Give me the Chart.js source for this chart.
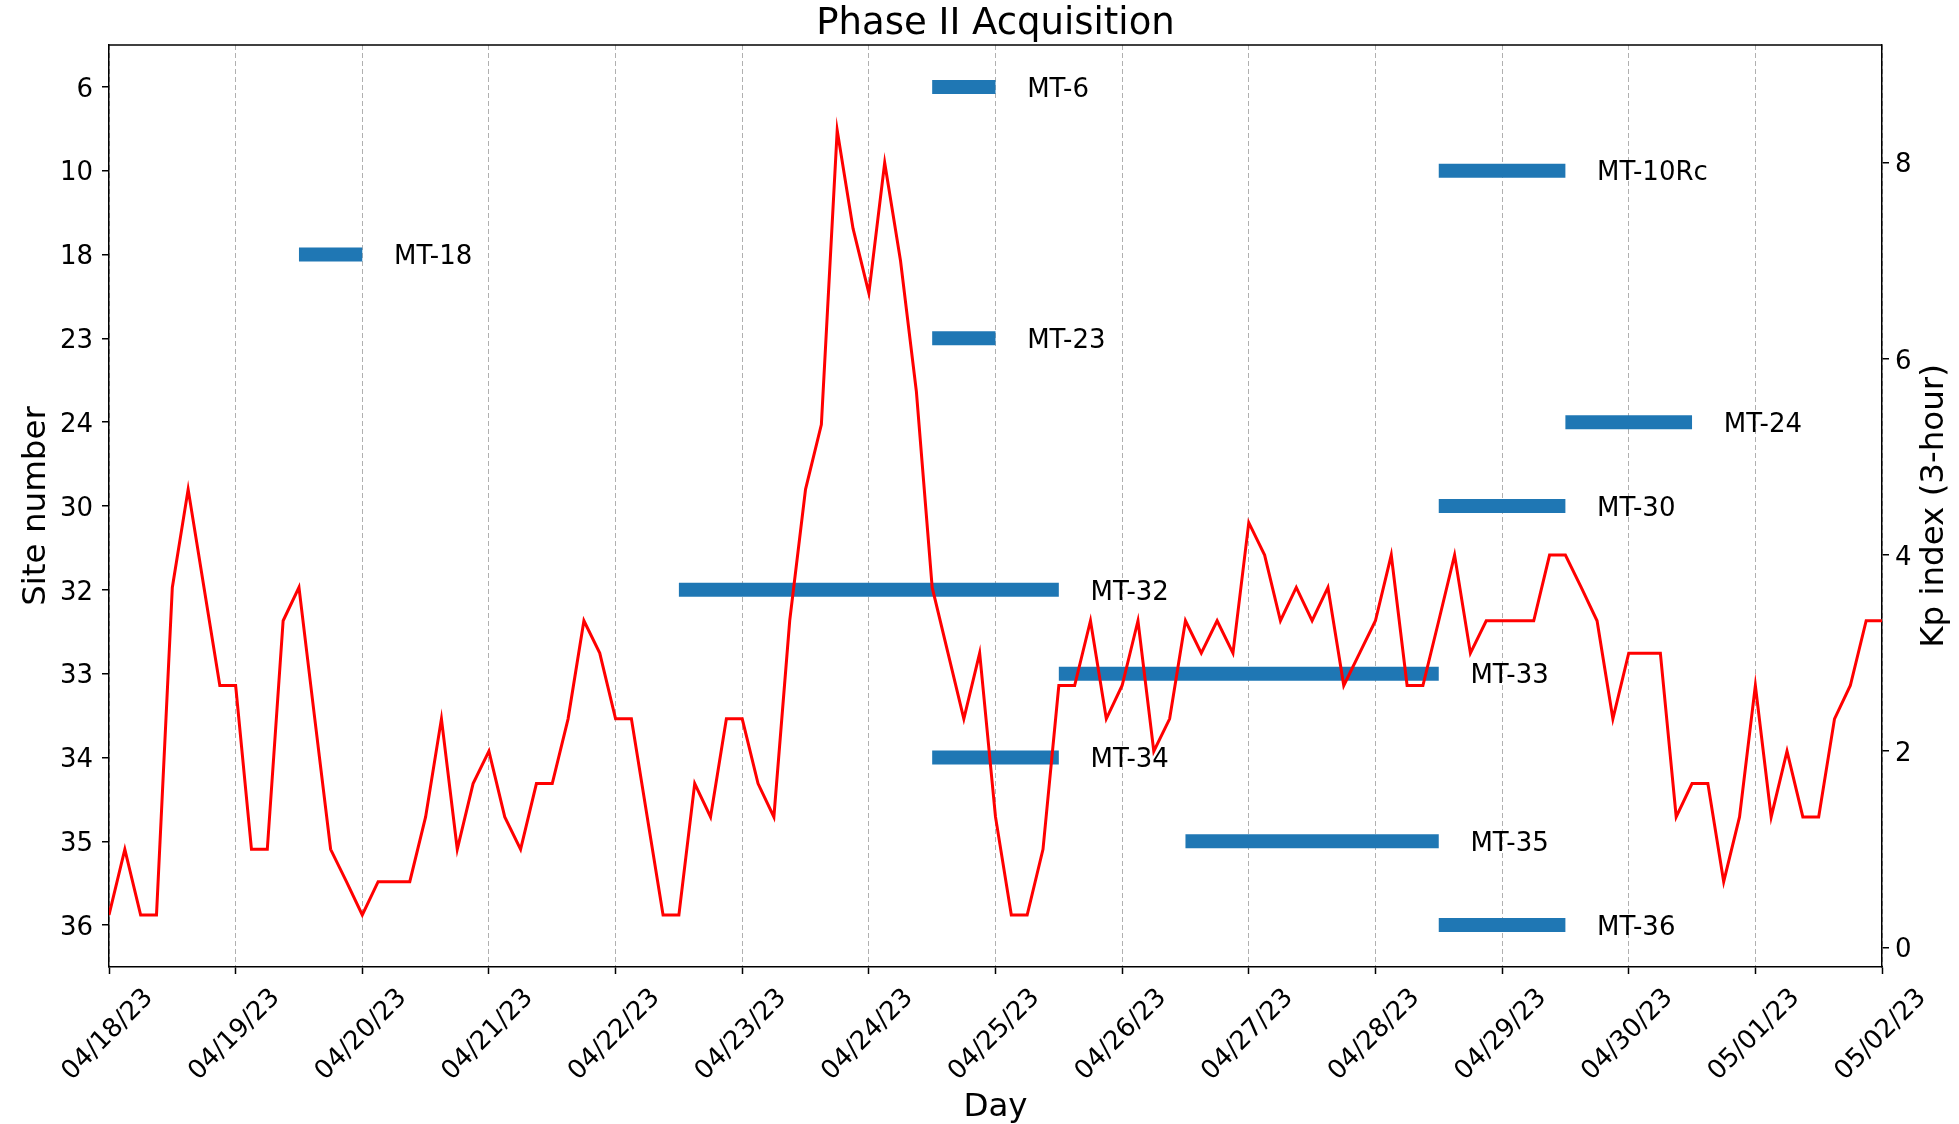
<!DOCTYPE html>
<html>
<head>
<meta charset="UTF-8">
<title>Phase II Acquisition</title>
<script src="https://cdn.jsdelivr.net/npm/chart.js@4.4.1/dist/chart.umd.min.js"></script>
<style>
    html, body { margin: 0; padding: 0; background: #fff; }
    canvas { display: block; }
</style>
</head>
<body>
<canvas id="myChart" width="1959" height="1124"></canvas>
<script>
    // x axis: days counted from 04/18/23 00:00
    const dayLabels = ['04/18/23', '04/19/23', '04/20/23', '04/21/23', '04/22/23', '04/23/23', '04/24/23',
        '04/25/23', '04/26/23', '04/27/23', '04/28/23', '04/29/23', '04/30/23', '05/01/23', '05/02/23'];

    // left axis: site numbers, top to bottom
    const siteTicks = ['6', '10', '18', '23', '24', '30', '32', '33', '34', '35', '36'];

    // acquisition runs (start / end in days from 04/18/23)
    const runNames = ['MT-6', 'MT-10Rc', 'MT-18', 'MT-23', 'MT-24', 'MT-30', 'MT-32', 'MT-33', 'MT-34', 'MT-35', 'MT-36'];
    const runSites = ['6', '10', '18', '23', '24', '30', '32', '33', '34', '35', '36'];
    const runStart = [6.5, 10.5, 1.5, 6.5, 11.5, 10.5, 4.5, 7.5, 6.5, 8.5, 10.5];
    const runEnd = [7.0, 11.5, 2.0, 7.0, 12.5, 11.5, 7.5, 10.5, 7.5, 10.5, 11.5];

    // Kp index, one value every 3 hours, 04/18 00:00 .. 05/02 00:00
    const kpValues = [
        0.33, 1.00, 0.33, 0.33, 3.67, 4.67, 3.67, 2.67,
        2.67, 1.00, 1.00, 3.33, 3.67, 2.33, 1.00, 0.67,
        0.33, 0.67, 0.67, 0.67, 1.33, 2.33, 1.00, 1.67,
        2.00, 1.33, 1.00, 1.67, 1.67, 2.33, 3.33, 3.00,
        2.33, 2.33, 1.33, 0.33, 0.33, 1.67, 1.33, 2.33,
        2.33, 1.67, 1.33, 3.33, 4.67, 5.33, 8.33, 7.33,
        6.67, 8.00, 7.00, 5.67, 3.67, 3.00, 2.33, 3.00,
        1.33, 0.33, 0.33, 1.00, 2.67, 2.67, 3.33, 2.33,
        2.67, 3.33, 2.00, 2.33, 3.33, 3.00, 3.33, 3.00,
        4.33, 4.00, 3.33, 3.67, 3.33, 3.67, 2.67, 3.00,
        3.33, 4.00, 2.67, 2.67, 3.33, 4.00, 3.00, 3.33,
        3.33, 3.33, 3.33, 4.00, 4.00, 3.67, 3.33, 2.33,
        3.00, 3.00, 3.00, 1.33, 1.67, 1.67, 0.67, 1.33,
        2.67, 1.33, 2.00, 1.33, 1.33, 2.33, 2.67, 3.33,
        3.33
    ];
    const kpTicks = [0, 2, 4, 6, 8];

    const FONT = '"DejaVu Sans", sans-serif';
    const TICK_SIZE = 26;
    const LABEL_SIZE = 32.5;

    const datasets = [{
        label: 'Kp',
        yAxisID: 'y2',
        data: kpValues.map((v, i) => ({x: i / 8, y: v})),
        borderColor: '#ff0000',
        borderWidth: 3,
        pointRadius: 0,
        tension: 0
    }];
    runNames.forEach((name, i) => {
        const row = siteTicks.indexOf(runSites[i]);
        datasets.push({
            label: name,
            yAxisID: 'y',
            data: [{x: runStart[i], y: row}, {x: runEnd[i], y: row}],
            borderColor: '#1f77b4',
            borderWidth: 14,
            borderCapStyle: 'butt',
            pointRadius: 0
        });
    });

    function noPad(s) {
        s.paddingTop = 0; s.paddingBottom = 0; s.paddingLeft = 0; s.paddingRight = 0;
    }

    // title, top spine, run labels, rotated dates, right axis title
    const extras = {
        id: 'extras',
        afterDraw(chart) {
            const {ctx, chartArea, scales} = chart;
            ctx.save();
            ctx.strokeStyle = '#000';
            ctx.lineWidth = 1.5;
            ctx.beginPath();
            ctx.moveTo(chartArea.left, chartArea.top);
            ctx.lineTo(chartArea.right, chartArea.top);
            ctx.stroke();

            ctx.fillStyle = '#000';
            ctx.font = '37px ' + FONT;
            ctx.textAlign = 'center';
            ctx.textBaseline = 'alphabetic';
            ctx.fillText('Phase II Acquisition', (chartArea.left + chartArea.right) / 2, 34);

            ctx.font = TICK_SIZE + 'px ' + FONT;
            ctx.textAlign = 'left';
            ctx.textBaseline = 'middle';
            runNames.forEach((name, i) => {
                const x = scales.x.getPixelForValue(runEnd[i] + 0.25);
                const y = scales.y.getPixelForValue(siteTicks.indexOf(runSites[i]));
                ctx.fillText(name, x, y + 3);
            });

            ctx.textAlign = 'center';
            dayLabels.forEach((lab, i) => {
                ctx.save();
                ctx.translate(scales.x.getPixelForValue(i) - 1, chartArea.bottom + 68);
                ctx.rotate(-Math.PI / 4);
                ctx.fillText(lab, 0, 0);
                ctx.restore();
            });

            ctx.font = LABEL_SIZE + 'px ' + FONT;
            ctx.translate(1935, (chartArea.top + chartArea.bottom) / 2);
            ctx.rotate(-Math.PI / 2);
            ctx.fillText('Kp index (3-hour)', 0, 0);
            ctx.restore();
        }
    };

    const ctx = document.getElementById('myChart');
    new Chart(ctx, {
        type: 'line',
        data: {datasets: datasets},
        options: {
            responsive: false,
            animation: false,
            devicePixelRatio: 1,
            layout: {padding: {top: 45}},
            scales: {
                x: {
                    type: 'linear',
                    min: 0,
                    max: 14,
                    bounds: 'data',
                    afterBuildTicks: s => { s.ticks = dayLabels.map((_, i) => ({value: i})); },
                    afterFit: s => { s.height = 157; noPad(s); },
                    ticks: {display: false},
                    grid: {color: '#b0b0b0', lineWidth: 1, tickLength: 7, tickColor: '#000', tickWidth: 1.5},
                    border: {color: '#000', width: 1.5, dash: [5, 3]},
                    title: {
                        display: true, text: 'Day', color: '#000',
                        font: {family: FONT, size: LABEL_SIZE, lineHeight: 1.0},
                        padding: {top: 0, bottom: 0}
                    }
                },
                y: {
                    type: 'linear',
                    position: 'left',
                    reverse: true,
                    min: -0.5,
                    max: 10.5,
                    bounds: 'data',
                    afterBuildTicks: s => { s.ticks = siteTicks.map((_, i) => ({value: i})); },
                    afterFit: s => { s.width = 109; noPad(s); },
                    ticks: {
                        color: '#000', padding: 9, autoSkip: false, labelOffset: 3,
                        font: {family: FONT, size: TICK_SIZE},
                        callback: v => siteTicks[v]
                    },
                    grid: {drawOnChartArea: false, tickLength: 7, tickColor: '#000', lineWidth: 1.5},
                    border: {color: '#000', width: 1.5},
                    title: {
                        display: true, text: 'Site number', color: '#000',
                        font: {family: FONT, size: LABEL_SIZE},
                        padding: {top: 17, bottom: 0}
                    }
                },
                y2: {
                    type: 'linear',
                    position: 'right',
                    min: -0.2,
                    max: 9.2,
                    bounds: 'data',
                    afterBuildTicks: s => { s.ticks = kpTicks.map(v => ({value: v})); },
                    afterFit: s => { s.width = 77; noPad(s); },
                    ticks: {color: '#000', padding: 6, labelOffset: 3, font: {family: FONT, size: TICK_SIZE}},
                    grid: {drawOnChartArea: false, tickLength: 7, tickColor: '#000', lineWidth: 1.5},
                    border: {color: '#000', width: 1.5}
                }
            },
            plugins: {
                legend: {display: false},
                tooltip: {enabled: false},
                title: {display: false}
            }
        },
        plugins: [extras]
    });
</script>
</body>
</html>
